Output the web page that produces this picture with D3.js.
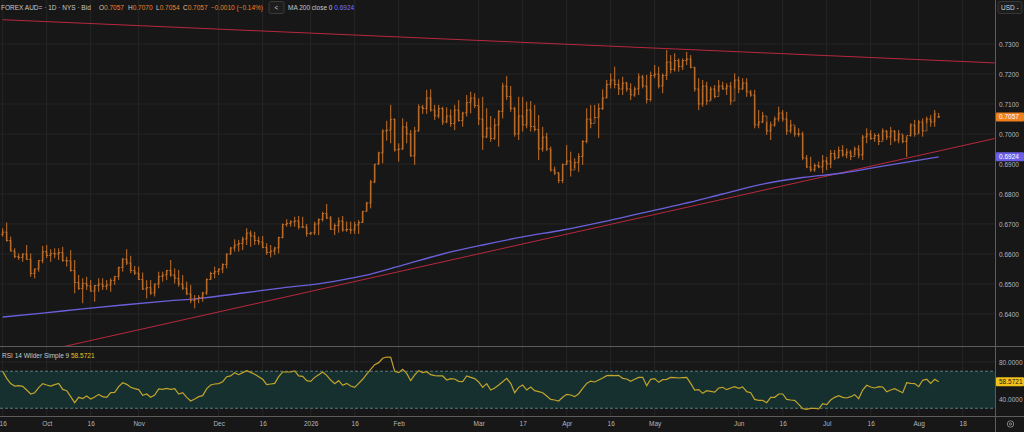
<!DOCTYPE html>
<html>
<head>
<meta charset="utf-8">
<script src="https://d3js.org/d3.v7.min.js"></script>
<style>
  body { margin: 0; background: #171717; overflow: hidden; }
  svg { display: block; font-family: "Liberation Sans", Arial, sans-serif; }
</style>
</head>
<body>
<div id="chart"></div>
<script>
// ---- data (daily AUD/USD bars) ----
const firstDay = "2025-09-16";

const opens = [.6665,.6673,.6645,.6610,.6591,.6588,.6600,.6582,.6535,.6550,
.6578,.6608,.6595,.6602,.6600,.6605,.6578,.6577,.6545,.6505,
.6485,.6502,.6494,.6476,.6495,.6500,.6492,.6497,.6512,.6525,
.6555,.6583,.6570,.6545,.6536,.6515,.6483,.6488,.6470,.6500,
.6525,.6530,.6545,.6530,.6519,.6500,.6486,.6467,.6445,.6450,
.6455,.6470,.6515,.6535,.6541,.6550,.6565,.6600,.6620,.6630,
.6635,.6650,.6670,.6660,.6645,.6640,.6622,.6605,.6610,.6620,
.6655,.6698,.6702,.6707,.6710,.6690,.6690,.6668,.6670,.6700,
.6715,.6735,.6720,.6682,.6695,.6710,.6680,.6682,.6680,.6697,
.6705,.6742,.6770,.6840,.6900,.6937,.7010,.7013,.7049,.6947,
.6950,.7024,.7000,.6927,.7010,.7090,.7085,.7120,.7080,.7060,
.7085,.7040,.7060,.7035,.7080,.7045,.7070,.7105,.7120,.7095,
.7050,.6990,.7020,.6985,.7030,.7075,.7160,.7125,.7085,.7000,
.7060,.7030,.7080,.7025,.7015,.6950,.6990,.6950,.6880,.6870,
.6845,.6898,.6910,.6880,.6905,.6925,.6975,.7050,.7035,.7055,
.7085,.7120,.7165,.7180,.7165,.7150,.7170,.7150,.7130,.7150,
.7190,.7160,.7115,.7195,.7200,.7160,.7195,.7240,.7215,.7245,
.7225,.7245,.7250,.7222,.7150,.7100,.7160,.7110,.7150,.7125,
.7160,.7150,.7160,.7110,.7180,.7150,.7170,.7140,.7130,.7030,
.7040,.7060,.7010,.7030,.7050,.7070,.7050,.7010,.7030,.7000,
.7000,.6920,.6890,.6880,.6895,.6890,.6910,.6900,.6935,.6920,
.6945,.6930,.6940,.6925,.6950,.6930,.6990,.7000,.6985,.6995,
.6975,.7010,.6990,.7010,.6980,.7000,.6975,.6995,.7030,.7000,
.7040,.7010,.7050,.7040,.7057];

const highs = [.6686,.6705,.6658,.6619,.6602,.6602,.6630,.6602,.6552,.6580,
.6627,.6630,.6616,.6619,.6619,.6624,.6591,.6613,.6580,.6530,
.6519,.6524,.6513,.6497,.6519,.6519,.6513,.6519,.6527,.6558,
.6586,.6616,.6594,.6560,.6558,.6538,.6513,.6513,.6502,.6541,
.6541,.6547,.6580,.6552,.6547,.6530,.6508,.6497,.6463,.6463,
.6474,.6519,.6541,.6558,.6552,.6569,.6602,.6624,.6649,.6647,
.6658,.6686,.6678,.6674,.6658,.6660,.6636,.6630,.6624,.6658,
.6702,.6716,.6713,.6724,.6727,.6724,.6700,.6674,.6708,.6719,
.6741,.6767,.6727,.6702,.6722,.6727,.6708,.6708,.6708,.6713,
.6744,.6774,.6847,.6900,.6941,.7016,.7044,.7097,.7052,.6969,
.7052,.7041,.7013,.7024,.7099,.7097,.7147,.7149,.7097,.7097,
.7091,.7089,.7082,.7097,.7113,.7074,.7130,.7141,.7136,.7119,
.7124,.7086,.7060,.7052,.7080,.7171,.7193,.7160,.7091,.7124,
.7124,.7108,.7110,.7097,.7063,.7024,.7004,.6958,.6891,.6874,
.6902,.6963,.6941,.6919,.6936,.6980,.7086,.7097,.7097,.7102,
.7149,.7180,.7202,.7224,.7182,.7191,.7174,.7169,.7158,.7202,
.7197,.7197,.7208,.7230,.7224,.7202,.7280,.7263,.7269,.7252,
.7252,.7274,.7263,.7224,.7186,.7180,.7174,.7158,.7163,.7180,
.7174,.7169,.7174,.7202,.7191,.7186,.7186,.7147,.7147,.7080,
.7074,.7041,.7041,.7058,.7091,.7080,.7074,.7047,.7024,.7019,
.7008,.6930,.6924,.6902,.6908,.6930,.6924,.6947,.6947,.6958,
.6963,.6952,.6947,.6958,.6963,.6997,.7019,.7013,.7002,.7002,
.7019,.7013,.7024,.7013,.7013,.6997,.6991,.7036,.7047,.7047,
.7052,.7058,.7063,.7080,.7070];

const lows = [.6658,.6641,.6608,.6586,.6580,.6574,.6580,.6524,.6519,.6541,
.6569,.6586,.6574,.6586,.6580,.6574,.6558,.6541,.6469,.6480,
.6436,.6480,.6474,.6441,.6474,.6480,.6480,.6474,.6497,.6513,
.6541,.6563,.6536,.6530,.6513,.6480,.6452,.6463,.6458,.6486,
.6508,.6513,.6524,.6502,.6491,.6480,.6463,.6436,.6419,.6436,
.6441,.6463,.6513,.6519,.6530,.6536,.6552,.6597,.6608,.6608,
.6613,.6630,.6624,.6630,.6630,.6619,.6597,.6589,.6597,.6602,
.6652,.6691,.6691,.6691,.6682,.6686,.6658,.6663,.6663,.6663,
.6708,.6716,.6680,.6663,.6671,.6674,.6674,.6667,.6667,.6667,
.6704,.6741,.6752,.6836,.6897,.6902,.6978,.6969,.6941,.6908,
.6947,.6969,.6924,.6897,.7008,.7067,.7067,.7074,.7047,.7052,
.7030,.7036,.7024,.7013,.7041,.7024,.7058,.7069,.7086,.7030,
.6947,.6986,.6974,.6980,.6958,.7052,.7113,.7074,.6991,.6980,
.7008,.7019,.7008,.7008,.6913,.6941,.6943,.6874,.6863,.6836,
.6836,.6897,.6858,.6886,.6874,.6897,.6969,.7019,.7052,.6986,
.7080,.7119,.7152,.7152,.7130,.7130,.7141,.7113,.7124,.7130,
.7152,.7102,.7108,.7186,.7152,.7136,.7180,.7202,.7208,.7208,
.7213,.7230,.7219,.7141,.7080,.7091,.7097,.7113,.7119,.7141,
.7147,.7130,.7097,.7152,.7136,.7147,.7124,.7124,.7019,.7019,
.7036,.6997,.6980,.7024,.7041,.7041,.6997,.7002,.6991,.6991,
.6913,.6886,.6874,.6874,.6886,.6869,.6880,.6886,.6913,.6919,
.6924,.6919,.6913,.6930,.6919,.6913,.6969,.6980,.6974,.6963,
.6980,.6980,.6963,.6974,.6969,.6969,.6924,.6991,.6991,.7002,
.6991,.7036,.7024,.7024,.7054];

const closes = [.6673,.6645,.6610,.6591,.6588,.6600,.6582,.6535,.6550,.6578,
.6608,.6595,.6602,.6600,.6605,.6578,.6577,.6545,.6505,.6485,
.6502,.6494,.6476,.6495,.6500,.6492,.6497,.6512,.6525,.6555,
.6583,.6570,.6545,.6536,.6515,.6483,.6488,.6470,.6500,.6525,
.6530,.6545,.6530,.6519,.6500,.6486,.6467,.6445,.6450,.6455,
.6470,.6515,.6535,.6541,.6550,.6565,.6600,.6620,.6630,.6635,
.6650,.6670,.6660,.6645,.6640,.6622,.6605,.6610,.6620,.6655,
.6698,.6702,.6707,.6710,.6690,.6690,.6668,.6670,.6700,.6715,
.6735,.6720,.6682,.6695,.6710,.6680,.6682,.6680,.6697,.6705,
.6742,.6770,.6840,.6900,.6937,.7010,.7013,.7049,.6947,.6950,
.7024,.7000,.6927,.7010,.7090,.7085,.7120,.7080,.7060,.7085,
.7040,.7060,.7035,.7080,.7045,.7070,.7105,.7120,.7095,.7050,
.6990,.7020,.6985,.7030,.7075,.7160,.7125,.7085,.7000,.7060,
.7030,.7080,.7025,.7015,.6950,.6990,.6950,.6880,.6870,.6845,
.6898,.6910,.6880,.6905,.6925,.6975,.7050,.7035,.7055,.7085,
.7120,.7165,.7180,.7165,.7150,.7170,.7150,.7130,.7150,.7190,
.7160,.7115,.7195,.7200,.7160,.7195,.7240,.7215,.7245,.7225,
.7245,.7250,.7222,.7150,.7100,.7160,.7110,.7150,.7125,.7160,
.7150,.7160,.7110,.7180,.7150,.7170,.7140,.7130,.7030,.7040,
.7060,.7010,.7030,.7050,.7070,.7050,.7010,.7030,.7000,.7000,
.6920,.6890,.6880,.6895,.6890,.6910,.6900,.6935,.6920,.6945,
.6930,.6940,.6925,.6950,.6930,.6990,.7000,.6985,.6995,.6975,
.7010,.6990,.7010,.6980,.7000,.6975,.6995,.7030,.7000,.7040,
.7010,.7050,.7040,.7067,.7057];

// RSI 14, one value per bar
const rsi = [69.9,62.3,56.6,54.0,54.4,53.7,49.7,45.4,46.8,52.2,
56.6,55.1,54.0,55.5,56.9,50.4,49.0,42.5,36.0,41.8,
40.4,43.2,40.0,42.2,45.0,42.5,41.8,46.8,47.2,53.3,
57.6,55.8,52.6,51.2,50.1,44.0,45.4,41.8,44.3,50.8,
50.4,51.5,50.4,51.2,45.4,46.8,41.8,37.8,40.0,42.5,
43.6,51.2,55.1,56.2,56.6,58.7,64.1,64.9,68.5,66.3,
68.5,70.6,68.8,66.7,64.1,61.3,55.5,56.2,56.9,64.1,
69.2,69.2,69.2,70.3,64.9,64.5,59.8,59.1,63.4,66.3,
69.2,65.6,60.5,56.6,59.8,54.8,56.9,54.0,52.6,56.9,
61.3,67.0,72.1,77.1,79.3,84.0,85.4,85.0,69.9,68.5,
72.1,67.7,59.8,66.0,70.6,68.5,69.5,66.3,65.2,64.9,
64.9,60.5,62.0,61.6,59.1,58.7,64.9,63.4,62.0,58.4,
52.6,56.6,49.7,51.9,55.1,58.7,62.3,56.9,46.8,52.6,
55.1,49.7,53.0,49.0,47.9,46.8,43.2,39.6,38.9,37.8,
41.8,45.0,44.3,42.5,45.7,51.5,56.9,59.4,58.4,60.5,
62.7,65.2,65.6,65.2,65.6,62.3,61.6,59.1,61.3,63.4,
63.4,54.4,61.3,62.0,58.0,60.9,61.3,63.4,63.1,62.7,
63.1,63.4,56.9,49.7,50.1,46.1,49.0,48.3,47.5,51.9,
52.6,50.1,51.9,53.3,51.5,53.0,47.9,46.8,39.6,38.5,
38.5,36.0,41.8,41.8,45.4,45.4,39.6,38.9,38.5,34.2,
29.5,28.8,29.9,29.9,29.2,34.9,33.9,38.9,41.8,43.6,
41.8,41.1,42.5,44.7,40.4,49.7,54.8,53.0,51.9,53.3,
53.0,47.9,49.7,51.2,49.0,46.8,57.6,56.9,56.6,53.3,
60.2,61.3,56.9,61.3,58.5721];

// MA 200 close, read every 10 bars
const maDates = ["2025-09-16","2025-09-30","2025-10-14","2025-10-28","2025-11-11","2025-11-25",
  "2025-12-09","2025-12-23","2026-01-06","2026-01-20","2026-02-03","2026-02-17","2026-03-03",
  "2026-03-17","2026-03-31","2026-04-14","2026-04-28","2026-05-12","2026-05-26","2026-06-09",
  "2026-06-23","2026-07-07","2026-07-21","2026-08-10"];
const maValues = [.6390,.6403,.6417,.6430,.6442,.6453,.6470,.6487,.6503,.6527,.6563,.6600,
  .6630,.6657,.6680,.6707,.6737,.6767,.6800,.6833,.6855,.6870,.6893,.6924];

// hand-drawn trend lines: [date, price] anchors
const upperTrend = [["2025-09-16", .7381], ["2026-08-28", .7237]];
const lowerTrend = [["2025-09-16", .6246], ["2026-08-28", .6985]];

const priceTicks = [.64,.65,.66,.67,.68,.69,.70,.71,.72,.73];
const rsiTicks = [40, 80];
const tickDates = ["2025-09-16","2025-10-01","2025-10-16","2025-11-03","2025-12-01","2025-12-16",
  "2026-01-01","2026-01-16","2026-02-02","2026-03-02","2026-03-17","2026-04-01","2026-04-16",
  "2026-05-01","2026-06-01","2026-06-16","2026-07-01","2026-07-16","2026-08-03","2026-08-18"];
const tickLabels = ["16","Oct","16","Nov","Dec","16","2026","16","Feb","Mar","17","Apr","16",
  "May","Jun","16","Jul","16","Aug","18"];

// ---- layout ----
const W = 1024, H = 432;
const plotR = 995, priceB = 346, rsiB = 416;
const orange = "#d87a2c", purple = "#6a60dc", red = "#b8283f", yellow = "#c2a32b";
const labelFill = "#b2b5be";

// weekday calendar (forex trades Mon-Fri)
const parse = d3.timeParse("%Y-%m-%d"), fmt = d3.timeFormat("%Y-%m-%d");
const days = d3.timeDay.range(parse(firstDay), d3.timeDay.offset(parse(firstDay), 400))
  .filter(d => d.getDay() % 6 !== 0).map(fmt);
const dayIndex = new Map(days.map((d, i) => [d, i]));

const x = d3.scaleLinear().domain([0, 248]).range([2.7, 994.7]);
const yP = d3.scaleLinear().domain([0.62933, 0.74467]).range([priceB, 0]);
const yR = d3.scaleLinear().domain([21.6, 97.3]).range([rsiB, priceB]);

const svg = d3.select("#chart").append("svg").attr("width", W).attr("height", H);
svg.append("rect").attr("width", W).attr("height", H).attr("fill", "#171717");

const defs = svg.append("defs");
defs.append("clipPath").attr("id", "clipP").append("rect")
  .attr("x", 0).attr("y", 0).attr("width", plotR).attr("height", priceB);
defs.append("clipPath").attr("id", "clipR").append("rect")
  .attr("x", 0).attr("y", priceB).attr("width", plotR).attr("height", rsiB - priceB);

// grid
const grid = svg.append("g").attr("stroke", "#252525").attr("stroke-width", 1);
grid.selectAll(".vg").data(tickDates).join("line")
  .attr("x1", d => x(dayIndex.get(d))).attr("x2", d => x(dayIndex.get(d)))
  .attr("y1", 0).attr("y2", rsiB);
grid.selectAll(".hg").data(priceTicks).join("line").attr("class", "hg")
  .attr("x1", 0).attr("x2", plotR).attr("y1", d => yP(d)).attr("y2", d => yP(d));
grid.selectAll(".rg").data(rsiTicks).join("line").attr("class", "rg")
  .attr("x1", 0).attr("x2", plotR).attr("y1", d => yR(d)).attr("y2", d => yR(d));

// ---- price panel ----
const pricePanel = svg.append("g").attr("clip-path", "url(#clipP)");

const trendLine = d3.line().x(d => x(dayIndex.get(d[0]))).y(d => yP(d[1]));
[upperTrend, lowerTrend].forEach(t => {
  pricePanel.append("path").attr("d", trendLine(t))
    .attr("fill", "none").attr("stroke", red).attr("stroke-width", 1);
});

const maLine = d3.line().curve(d3.curveMonotoneX)
  .x((d, i) => x(dayIndex.get(maDates[i]))).y(d => yP(d));
pricePanel.append("path").attr("d", maLine(maValues))
  .attr("fill", "none").attr("stroke", purple).attr("stroke-width", 1.3);

const bars = pricePanel.selectAll(".bar").data(closes).join("g").attr("class", "bar")
  .attr("transform", (d, i) => `translate(${x(i)},0)`);
bars.append("rect")
  .attr("x", -1).attr("width", 2)
  .attr("y", (d, i) => yP(Math.max(opens[i], d)))
  .attr("height", (d, i) => Math.max(0.8, Math.abs(yP(opens[i]) - yP(d))))
  .attr("fill", "#7a4620").attr("opacity", 0.8);
bars.append("line")
  .attr("x1", 0).attr("x2", 0)
  .attr("y1", (d, i) => yP(highs[i])).attr("y2", (d, i) => yP(lows[i]))
  .attr("stroke", orange).attr("stroke-width", 0.9);
bars.append("line")
  .attr("x1", -1.5).attr("x2", 0)
  .attr("y1", (d, i) => yP(opens[i])).attr("y2", (d, i) => yP(opens[i]))
  .attr("stroke", orange).attr("stroke-width", 0.8);
bars.append("line")
  .attr("x1", 0).attr("x2", 1.5)
  .attr("y1", d => yP(d)).attr("y2", d => yP(d))
  .attr("stroke", orange).attr("stroke-width", 0.8);

// ---- RSI panel ----
const rsiPanel = svg.append("g").attr("clip-path", "url(#clipR)");
rsiPanel.append("rect").attr("x", 0).attr("width", plotR)
  .attr("y", yR(70)).attr("height", yR(30) - yR(70)).attr("fill", "#16302f");
rsiPanel.selectAll(".band").data([70, 30]).join("line")
  .attr("x1", 0).attr("x2", plotR).attr("y1", d => yR(d)).attr("y2", d => yR(d))
  .attr("stroke", "#5b7f80").attr("stroke-dasharray", "3,2");
rsiPanel.append("path")
  .attr("d", d3.line().x((d, i) => x(i)).y(d => yR(d))(rsi))
  .attr("fill", "none").attr("stroke", yellow).attr("stroke-width", 1.2);

// separators
const sep = svg.append("g").attr("stroke", "#5c5c5c").attr("stroke-width", 1);
sep.append("line").attr("x1", 0).attr("x2", W).attr("y1", priceB + 0.5).attr("y2", priceB + 0.5);
sep.append("line").attr("x1", 0).attr("x2", W).attr("y1", rsiB + 0.5).attr("y2", rsiB + 0.5);
sep.append("line").attr("x1", plotR + 0.5).attr("x2", plotR + 0.5).attr("y1", 0).attr("y2", H);

// ---- axes ----
function styleAxis(g) {
  g.select(".domain").remove();
  g.selectAll("text").attr("fill", labelFill).attr("font-size", 6.5)
    .attr("font-family", "Liberation Sans, Arial, sans-serif");
}
svg.append("g").attr("transform", `translate(${plotR},0)`)
  .call(d3.axisRight(yP).tickValues(priceTicks).tickFormat(d3.format(".4f")).tickSize(0).tickPadding(4))
  .call(styleAxis).call(g => g.selectAll("text").attr("text-anchor", "start"));
svg.append("g").attr("transform", `translate(${plotR},0)`)
  .call(d3.axisRight(yR).tickValues(rsiTicks).tickFormat(d3.format(".4f")).tickSize(0).tickPadding(4))
  .call(styleAxis);
svg.append("g").attr("transform", `translate(0,${rsiB})`)
  .call(d3.axisBottom(x).tickValues(tickDates.map(d => dayIndex.get(d)))
    .tickFormat((d, i) => tickLabels[i]).tickSize(0).tickPadding(5))
  .call(styleAxis);

// last-value tags on the right scale
function tag(y, text, fill, textFill) {
  svg.append("rect").attr("x", plotR + 1).attr("y", y - 4.5).attr("width", 28).attr("height", 9)
    .attr("fill", fill).attr("rx", 1);
  svg.append("text").attr("x", plotR + 4).attr("y", y).attr("dy", "0.35em")
    .attr("font-size", 6.5).attr("fill", textFill).text(text);
}
tag(yP(closes[closes.length - 1]), d3.format(".4f")(closes[closes.length - 1]), "#f0801e", "#ffffff");
tag(yP(maValues[maValues.length - 1]), d3.format(".4f")(maValues[maValues.length - 1]), "#6a5fe6", "#ffffff");
tag(yR(rsi[rsi.length - 1]), d3.format(".4f")(rsi[rsi.length - 1]), "#f2c21b", "#1a1a1a");

// USD selector and settings icon
svg.append("rect").attr("x", plotR + 3).attr("y", 1.5).attr("width", 24).attr("height", 12)
  .attr("rx", 2).attr("fill", "#1d1d1d").attr("stroke", "#363636");
svg.append("text").attr("x", plotR + 6).attr("y", 7.5).attr("dy", "0.35em")
  .attr("font-size", 6.5).attr("fill", "#d1d4dc").text("USD  -");
svg.append("circle").attr("cx", 1010.5).attr("cy", 424).attr("r", 3.2)
  .attr("fill", "none").attr("stroke", "#9a9a9a").attr("stroke-width", 0.8);
svg.append("circle").attr("cx", 1010.5).attr("cy", 424).attr("r", 1.1)
  .attr("fill", "none").attr("stroke", "#9a9a9a").attr("stroke-width", 0.8);

// ---- legends ----
const last = closes.length - 1;
const chg = closes[last] - closes[last - 1];
const f4 = d3.format(".4f");
const head = svg.append("g").attr("font-size", 6.5);
head.append("text").attr("x", 1).attr("y", 8).attr("dy", "0.35em").attr("fill", "#c8c8c8")
  .text("FOREX AUD= · 1D · NYS · Bid");
[["O", opens[last], 99], ["H", highs[last], 128], ["L", lows[last], 156], ["C", closes[last], 183]]
  .forEach(([k, v, px]) => {
    const t = head.append("text").attr("x", px).attr("y", 8).attr("dy", "0.35em");
    t.append("tspan").attr("fill", "#c8c8c8").text(k);
    t.append("tspan").attr("fill", "#e8842c").text(f4(v));
  });
head.append("text").attr("x", 211).attr("y", 8).attr("dy", "0.35em").attr("fill", "#e8842c")
  .text(`${f4(chg).replace("-", "\u2212")} (${d3.format(".2%")(chg / closes[last - 1]).replace("-", "\u2212")})`);
head.append("rect").attr("x", 269).attr("y", 1.5).attr("width", 15).attr("height", 12).attr("rx", 2)
  .attr("fill", "#1d1d1d").attr("stroke", "#3a3a3a");
head.append("text").attr("x", 276.5).attr("y", 8).attr("dy", "0.35em").attr("text-anchor", "middle")
  .attr("fill", "#d1d4dc").text("<");
const maText = head.append("text").attr("x", 288).attr("y", 8).attr("dy", "0.35em");
maText.append("tspan").attr("fill", "#c8c8c8").text("MA 200 close 0  ");
maText.append("tspan").attr("fill", "#7c70f0").text(f4(maValues[maValues.length - 1]));

const rsiText = svg.append("text").attr("x", 2).attr("y", 356).attr("dy", "0.35em").attr("font-size", 6.5);
rsiText.append("tspan").attr("fill", "#c8c8c8").text("RSI 14 Wilder Simple 9  ");
rsiText.append("tspan").attr("fill", "#e6c31f").text(f4(rsi[rsi.length - 1]));
</script>
</body>
</html>
